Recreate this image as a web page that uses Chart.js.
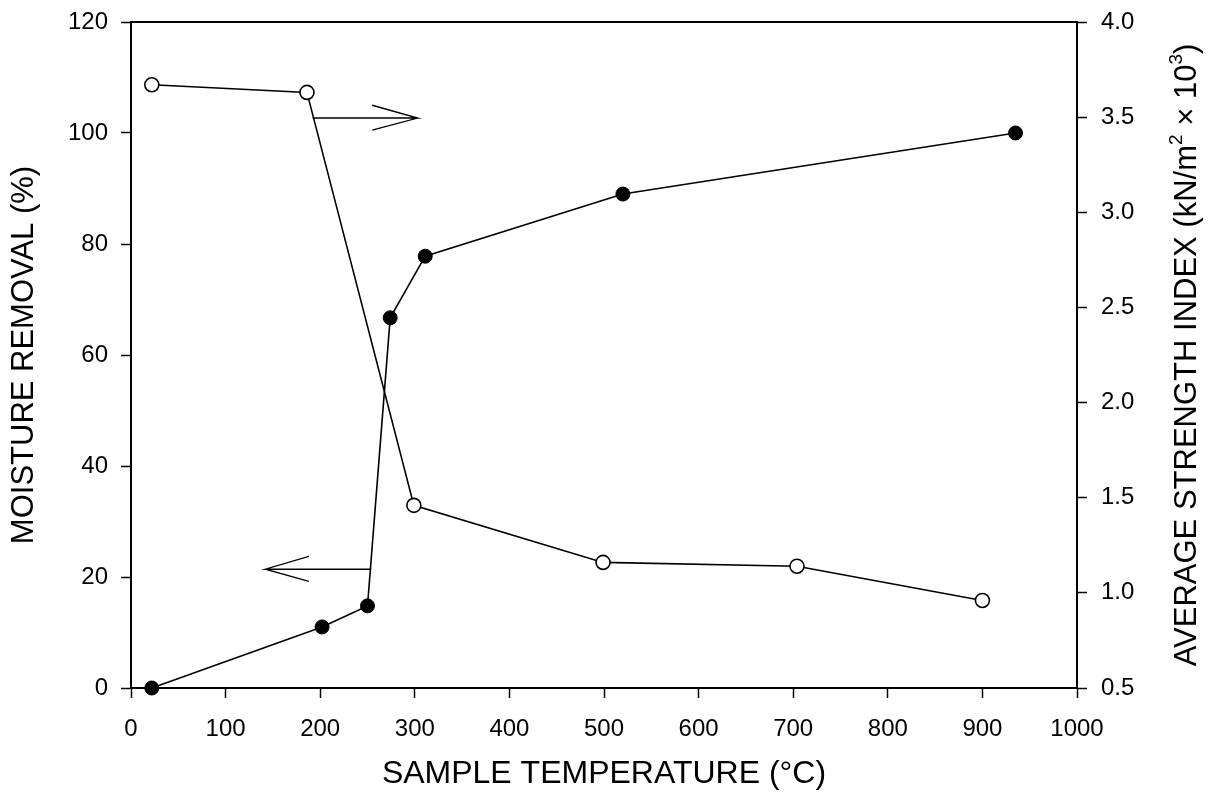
<!DOCTYPE html>
<html>
<head>
<meta charset="utf-8">
<title>Moisture removal and strength vs temperature</title>
<script src="https://cdn.jsdelivr.net/npm/chart.js@4.4.1/dist/chart.umd.min.js"></script>
<style>
    html, body { margin: 0; padding: 0; background: #fff; }
    #wrap { width: 1208px; height: 800px; }
</style>
</head>
<body>
<div id="wrap">
    <canvas id="tempChart" width="1208" height="800"></canvas>
</div>
<script>
// ---- Data ----
// Filled circles: moisture removal (%) -> left axis
const moistTemp = [22, 202, 250, 274, 311, 520, 935];
const moistValues = [0, 11, 14.8, 66.7, 77.8, 89, 100];

// Open circles: average strength index (kN/m2 x 10^3) -> right axis
const strengthTemp = [22, 186, 299, 499, 704, 900];
const strengthValues = [3.67, 3.63, 1.46, 1.16, 1.14, 0.96];

// Arrows telling which curve goes with which axis (left-axis units)
// order: tail, tip, barb, tip, barb
const arrowRightX = [192, 303, 255, 303, 255];
const arrowRightY = [102.7, 102.7, 105.0, 102.7, 100.5];
const arrowLeftX = [254, 142, 188, 142, 188];
const arrowLeftY = [21.4, 21.4, 23.7, 21.4, 19.2];

// Axis ranges and ticks
const xMin = 0, xMax = 1000, xStep = 100;
const yMin = 0, yMax = 120, yStep = 20;
const y2Min = 0.5, y2Max = 4.0, y2Step = 0.5;

// Axis titles
const xTitle = [{ t: 'SAMPLE TEMPERATURE (\u00B0C)' }];
const yTitle = [{ t: 'MOISTURE REMOVAL (%)' }];
const y2Title = [
    { t: 'AVERAGE STRENGTH INDEX (kN/m' },
    { t: '2', sup: true },
    { t: ' \u00D7 10' },
    { t: '3', sup: true },
    { t: ')' }
];

const FONT = '"Liberation Sans", Arial, sans-serif';

document.addEventListener('DOMContentLoaded', function () {
    initTempChart();
});

// zip two arrays into {x, y} points
function toPoints(xs, ys) {
    return xs.map((x, i) => ({ x: x, y: ys[i] }));
}

// draws a title made of segments (superscripts allowed), centred on cx
function drawTitle(ctx, parts, cx, baseY, angle, size) {
    ctx.save();
    ctx.translate(cx, baseY);
    ctx.rotate(angle);
    ctx.fillStyle = '#000';
    ctx.textBaseline = 'alphabetic';
    ctx.textAlign = 'left';

    const fontFor = (p) => (p.sup ? Math.round(size * 0.62) : size) + 'px ' + FONT;
    let total = 0;
    parts.forEach(p => { ctx.font = fontFor(p); total += ctx.measureText(p.t).width; });

    let x = -total / 2;
    parts.forEach(p => {
        ctx.font = fontFor(p);
        ctx.fillText(p.t, x, p.sup ? -size * 0.45 : 0);
        x += ctx.measureText(p.t).width;
    });
    ctx.restore();
}

// top frame line + the three axis titles
const framePlugin = {
    id: 'frameAndTitles',
    afterDraw(chart) {
        const ctx = chart.ctx;
        const a = chart.chartArea;
        ctx.save();
        ctx.strokeStyle = '#000';
        ctx.lineWidth = 2;
        ctx.beginPath();
        ctx.moveTo(a.left, a.top);
        ctx.lineTo(a.right, a.top);
        ctx.stroke();
        ctx.restore();

        const midY = (a.top + a.bottom) / 2;
        drawTitle(ctx, xTitle, (a.left + a.right) / 2, 783, 0, 32);
        drawTitle(ctx, yTitle, 33, midY, -Math.PI / 2, 31);
        drawTitle(ctx, y2Title, 1196, midY, -Math.PI / 2, 31);
    }
};

function axisStyle() {
    return {
        border: { display: true, color: '#000', width: 2 },
        grid: {
            drawOnChartArea: false,
            drawTicks: true,
            tickLength: 10,
            tickWidth: 1.5,
            tickColor: '#000'
        }
    };
}

// fixed width for the side axes, no extra top/bottom room for labels
function fixSideAxis(scale) {
    scale.width = 131;
    scale.paddingTop = 0;
    scale.paddingBottom = 0;
}

function initTempChart() {
    const canvas = document.getElementById('tempChart');
    if (!canvas) return;

    const arrowStyle = {
        borderColor: '#000',
        borderWidth: 1.3,
        pointRadius: 0,
        fill: false,
        tension: 0,
        yAxisID: 'y',
        clip: false
    };

    new Chart(canvas.getContext('2d'), {
        type: 'line',
        data: {
            datasets: [
                {
                    label: 'Moisture removal',
                    data: toPoints(moistTemp, moistValues),
                    yAxisID: 'y',
                    borderColor: '#000',
                    borderWidth: 1.6,
                    pointRadius: 7,
                    pointBackgroundColor: '#000',
                    pointBorderColor: '#000',
                    pointBorderWidth: 1,
                    tension: 0,
                    clip: false
                },
                {
                    label: 'Average strength index',
                    data: toPoints(strengthTemp, strengthValues),
                    yAxisID: 'y2',
                    borderColor: '#000',
                    borderWidth: 1.6,
                    pointRadius: 7,
                    pointBackgroundColor: '#fff',
                    pointBorderColor: '#000',
                    pointBorderWidth: 1.6,
                    tension: 0,
                    clip: false
                },
                Object.assign({ label: 'arrow right', data: toPoints(arrowRightX, arrowRightY) }, arrowStyle),
                Object.assign({ label: 'arrow left', data: toPoints(arrowLeftX, arrowLeftY) }, arrowStyle)
            ]
        },
        options: {
            responsive: false,
            animation: false,
            devicePixelRatio: 1,
            layout: { padding: { top: 22, left: 0, right: 0, bottom: 0 } },
            plugins: {
                legend: { display: false },
                tooltip: { enabled: false }
            },
            scales: {
                x: Object.assign(axisStyle(), {
                    type: 'linear',
                    min: xMin,
                    max: xMax,
                    ticks: {
                        stepSize: xStep,
                        padding: 17,
                        color: '#000',
                        font: { family: FONT, size: 24 },
                        callback: (v) => String(v)
                    },
                    afterFit: (scale) => {
                        scale.height = 112;
                        scale.paddingLeft = 0;
                        scale.paddingRight = 0;
                    }
                }),
                y: Object.assign(axisStyle(), {
                    type: 'linear',
                    position: 'left',
                    min: yMin,
                    max: yMax,
                    ticks: {
                        stepSize: yStep,
                        padding: 13,
                        color: '#000',
                        font: { family: FONT, size: 24 },
                        callback: (v) => String(v)
                    },
                    afterFit: fixSideAxis
                }),
                y2: Object.assign(axisStyle(), {
                    type: 'linear',
                    position: 'right',
                    min: y2Min,
                    max: y2Max,
                    ticks: {
                        stepSize: y2Step,
                        padding: 14,
                        color: '#000',
                        font: { family: FONT, size: 24 },
                        callback: (v) => v.toFixed(1)
                    },
                    afterFit: fixSideAxis
                })
            }
        },
        plugins: [framePlugin]
    });
}
</script>
</body>
</html>
